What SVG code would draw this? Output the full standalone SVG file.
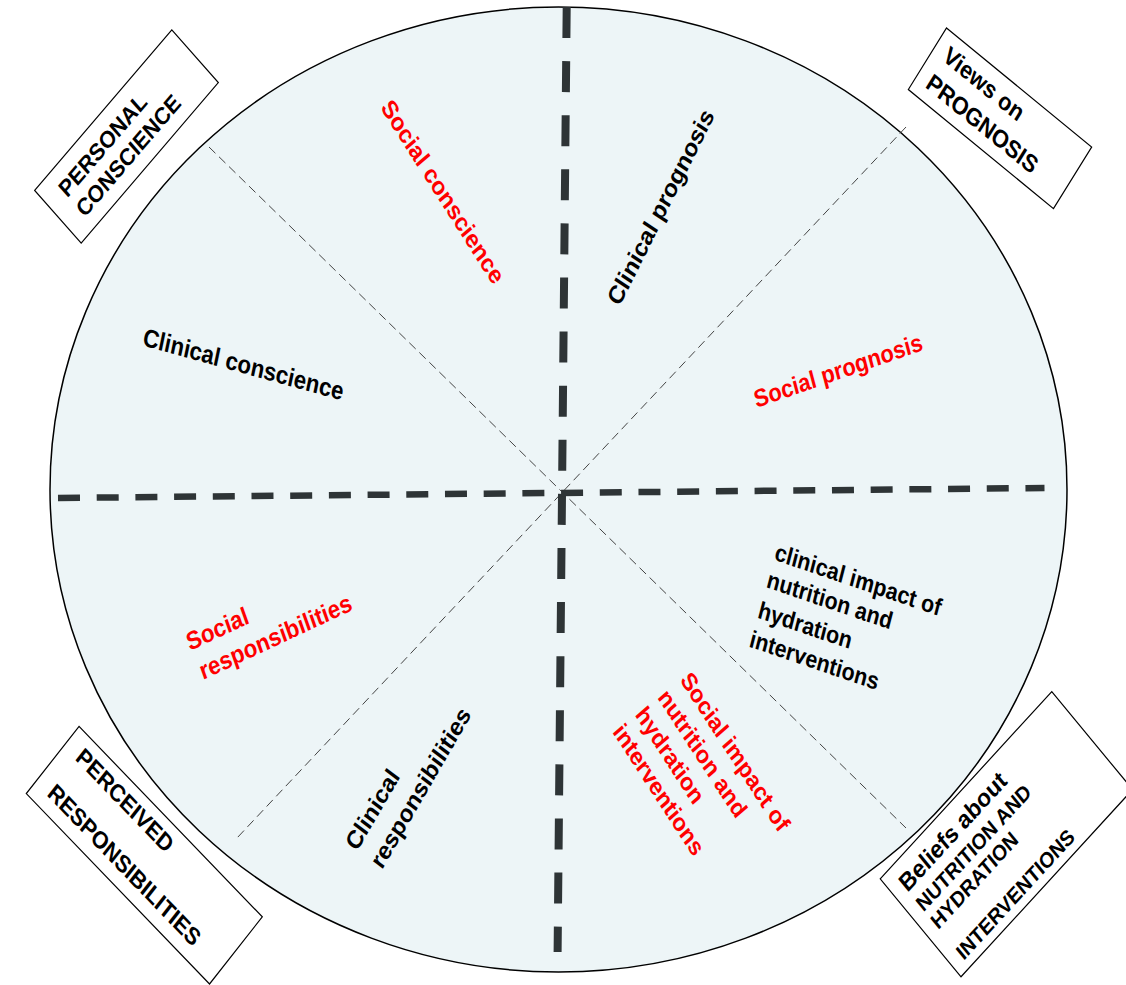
<svg xmlns="http://www.w3.org/2000/svg" width="1126" height="985" viewBox="0 0 1126 985">
<style>
.t{font-family:"Liberation Sans",Arial,sans-serif;font-weight:bold}
.red{fill:#ff0000}
.blk{fill:#000}
.box{fill:#fff;stroke:#000;stroke-width:1.2}
.thick{stroke:#2e3436;fill:none}
.thin{stroke:#444;stroke-width:1;stroke-dasharray:9 5;fill:none}
</style>
<rect x="0" y="0" width="1126" height="985" fill="#fff"/>
<g id="wheel">
<ellipse cx="558.5" cy="489.5" rx="508.5" ry="482.5" fill="#edf5f7" stroke="#000" stroke-width="1.5"/>
</g>
<g id="connectors">
<line class="thin" x1="209" y1="147" x2="906" y2="828"/>
<line class="thin" x1="906" y1="127" x2="237" y2="838"/>
<line class="thick" x1="566.7" y1="7" x2="557.6" y2="952" stroke-width="8" stroke-dasharray="31 23.1"/>
<line class="thick" x1="58" y1="498" x2="1044.5" y2="488" stroke-width="6.5" stroke-dasharray="22 16.7"/>
</g>
<g id="box-personal-conscience" transform="translate(126.5,136.5) scale(0.8696,1) rotate(-45.5)">
<rect class="box" x="-112.5" y="-37.5" width="225" height="75" vector-effect="non-scaling-stroke"/>
<text class="t blk" font-size="24" x="-92" y="-5.3">PERSONAL</text>
<text class="t blk" font-size="24" x="-92" y="23.1">CONSCIENCE</text>
</g>
<g id="box-views-on-prognosis" transform="translate(1000,118.3) scale(0.8696,1) rotate(35.5)">
<rect class="box" x="-102.5" y="-37.8" width="205" height="75.6" vector-effect="non-scaling-stroke"/>
<text class="t blk" font-size="25" x="-89" y="-8.7">Views on</text>
<text class="t blk" font-size="25" x="-89" y="24.8">PROGNOSIS</text>
</g>
<g id="box-perceived-responsibilities" transform="translate(144.3,855.2) scale(0.8696,1) rotate(42.1)">
<rect class="box" x="-142" y="-45.25" width="284" height="90.5" vector-effect="non-scaling-stroke"/>
<text class="t blk" font-size="24.5" x="-124" y="-17.3">PERCEIVED</text>
<text class="t blk" font-size="24.5" x="-124" y="31">RESPONSIBILITIES</text>
</g>
<g id="box-beliefs" transform="translate(1006.4,834.2) scale(0.8696,1) rotate(-43.5)">
<rect class="box" x="-136" y="-67.5" width="272" height="135" vector-effect="non-scaling-stroke"/>
<text class="t blk" font-size="25.5" x="-123" y="-35.8">Beliefs about</text>
<text class="t blk" font-size="22" x="-123" y="-8.7">NUTRITION AND</text>
<text class="t blk" font-size="22" x="-123" y="15.6">HYDRATION</text>
<text class="t blk" font-size="22" x="-123" y="58.2">INTERVENTIONS</text>
</g>
<g id="social-conscience" transform="translate(443,191.5) scale(0.8696,1) rotate(53.8)">
<text class="t red" font-size="25.5" x="0" y="9" text-anchor="middle">Social conscience</text>
</g>
<g id="clinical-prognosis" transform="translate(662.3,208) scale(0.8696,1) rotate(-60.2)">
<text class="t blk" font-size="25.5" x="0" y="6.6" text-anchor="middle">Clinical prognosis</text>
</g>
<g id="clinical-conscience" transform="translate(243.5,364) scale(0.8696,1) rotate(13.5)">
<text class="t blk" font-size="25.5" x="0" y="9" text-anchor="middle">Clinical conscience</text>
</g>
<g id="social-prognosis" transform="translate(838.7,372.5) scale(0.8696,1) rotate(-16.8)">
<text class="t red" font-size="25" x="0" y="6.6" text-anchor="middle">Social prognosis</text>
</g>
<g id="social-responsibilities" transform="translate(190,651) scale(0.8696,1) rotate(-22.1)">
<text class="t red" font-size="25.5" x="0" y="0">Social</text>
<text class="t red" font-size="25.5" x="3" y="32.5">responsibilities</text>
</g>
<g id="clinical-impact" transform="translate(773.4,559.6) scale(0.8696,1) rotate(16.5)">
<text class="t blk" font-size="24.5" x="0" y="0">clinical impact of</text>
<text class="t blk" font-size="24.5" x="-1" y="28.9">nutrition and</text>
<text class="t blk" font-size="24.5" x="-2" y="60.9">hydration</text>
<text class="t blk" font-size="24.5" x="-3" y="91.4">interventions</text>
</g>
<g id="social-impact" transform="translate(679.4,680.2) scale(0.8696,1) rotate(53.25)">
<text class="t red" font-size="25" x="0" y="0">Social impact of</text>
<text class="t red" font-size="25" x="-1.6" y="31">nutrition and</text>
<text class="t red" font-size="25" x="-3.2" y="62">hydration</text>
<text class="t red" font-size="25" x="-4.8" y="93">interventions</text>
</g>
<g id="clinical-responsibilities" transform="translate(357,852) scale(0.8696,1) rotate(-56.4)">
<text class="t blk" font-size="25.5" x="0" y="0">Clinical</text>
<text class="t blk" font-size="25.5" x="0.7" y="34">responsibilities</text>
</g>
</svg>
